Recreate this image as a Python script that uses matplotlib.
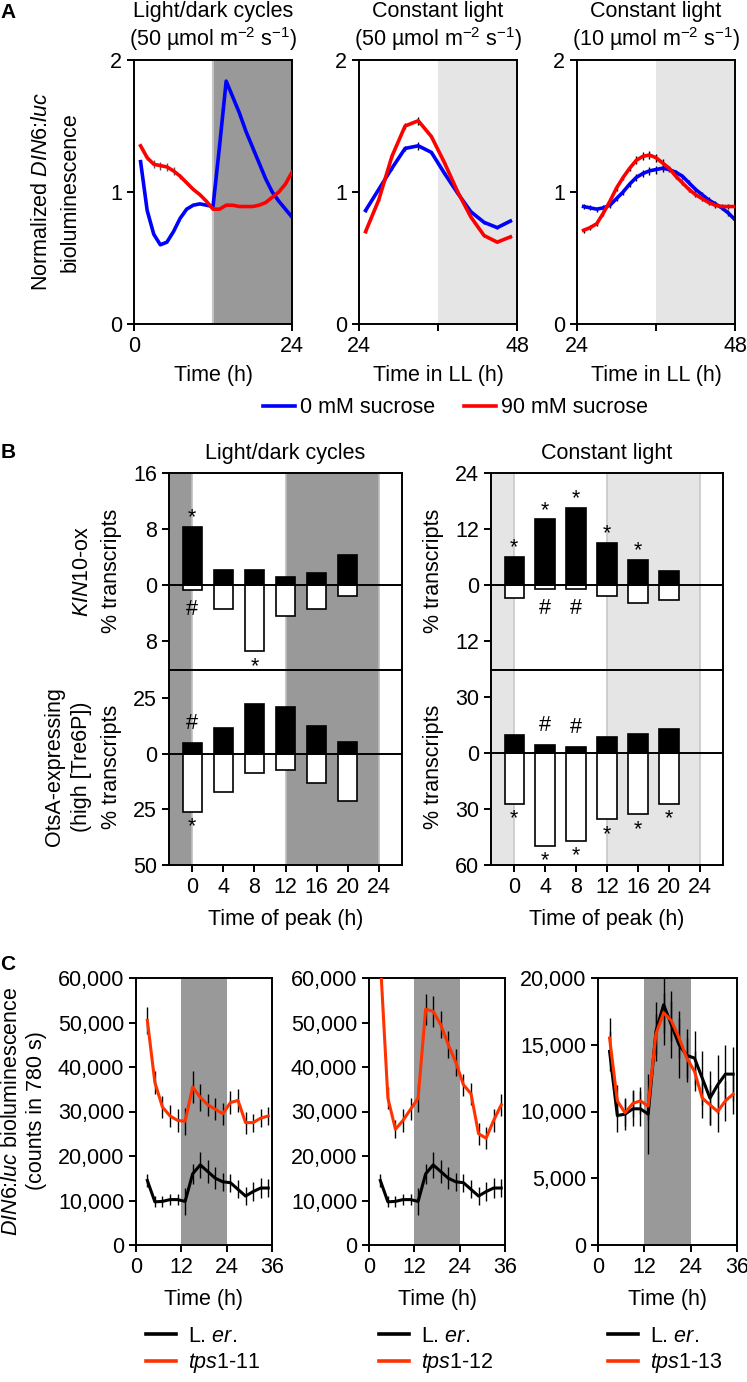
import matplotlib
matplotlib.use("Agg")
import matplotlib.pyplot as plt
from matplotlib.ticker import FuncFormatter
from matplotlib.lines import Line2D

plt.rcParams['font.family'] = ['Liberation Sans', 'DejaVu Sans']
plt.rcParams['mathtext.fontset'] = 'custom'
plt.rcParams['mathtext.rm'] = 'Liberation Sans'
plt.rcParams['mathtext.it'] = 'Liberation Sans:italic'
plt.rcParams['mathtext.bf'] = 'Liberation Sans:bold'
plt.rcParams['font.size'] = 15.5
plt.rcParams['axes.linewidth'] = 1.4
plt.rcParams['xtick.major.width'] = 1.4
plt.rcParams['ytick.major.width'] = 1.4
plt.rcParams['xtick.minor.width'] = 1.4
plt.rcParams['xtick.major.size'] = 5
plt.rcParams['ytick.major.size'] = 5
plt.rcParams['xtick.minor.size'] = 5

# --- A: normalized DIN6:luc bioluminescence ---
t_ld = [1, 2, 3, 4, 5, 6, 7, 8, 9, 10, 11, 12, 13, 14, 15, 16, 17, 18, 19, 20, 21, 22, 23, 24]
ld_0mM = [1.23, 0.86, 0.68, 0.60, 0.62, 0.70, 0.80, 0.87, 0.90, 0.91, 0.90, 0.89,
          1.35, 1.84, 1.72, 1.60, 1.46, 1.34, 1.22, 1.10, 1.00, 0.93, 0.87, 0.81]
ld_90mM = [1.35, 1.26, 1.21, 1.20, 1.19, 1.16, 1.12, 1.07, 1.02, 0.98, 0.93, 0.87,
           0.87, 0.90, 0.90, 0.89, 0.89, 0.89, 0.90, 0.92, 0.96, 1.00, 1.06, 1.15]
ld_90mM_err = [0.0, 0.02, 0.03, 0.03, 0.03, 0.03, 0.02, 0.0, 0.0, 0.0, 0.0, 0.0,
               0.0, 0.0, 0.0, 0.0, 0.0, 0.0, 0.0, 0.0, 0.0, 0.0, 0.0, 0.0]

t_ll50 = [25, 27, 29, 31, 33, 35, 37, 39, 41, 43, 45, 47]
ll50_0mM = [0.86, 1.02, 1.18, 1.33, 1.35, 1.30, 1.14, 0.99, 0.85, 0.77, 0.73, 0.78]
ll50_90mM = [0.70, 0.94, 1.27, 1.50, 1.54, 1.42, 1.22, 1.00, 0.81, 0.67, 0.62, 0.66]
ll50_err = [0.01, 0.01, 0.01, 0.02, 0.03, 0.01, 0.01, 0.01, 0.01, 0.01, 0.01, 0.01]

t_ll10 = [25, 26, 27, 28, 29, 30, 31, 32, 33, 34, 35, 36,
          37, 38, 39, 40, 41, 42, 43, 44, 45, 46, 47, 48]
ll10_0mM = [0.89, 0.88, 0.87, 0.88, 0.90, 0.95, 1.00, 1.06, 1.11, 1.14, 1.16, 1.17,
            1.18, 1.17, 1.15, 1.12, 1.07, 1.02, 0.98, 0.94, 0.91, 0.88, 0.84, 0.79]
ll10_90mM = [0.71, 0.73, 0.76, 0.84, 0.93, 1.03, 1.11, 1.18, 1.24, 1.27, 1.28, 1.26,
             1.22, 1.18, 1.12, 1.07, 1.02, 0.98, 0.95, 0.92, 0.90, 0.89, 0.89, 0.89]
ll10_err = [0.02, 0.02, 0.02, 0.02, 0.02, 0.02, 0.02, 0.02, 0.03, 0.03, 0.03, 0.03,
            0.03, 0.02, 0.02, 0.02, 0.02, 0.02, 0.02, 0.02, 0.02, 0.02, 0.02, 0.02]

# --- B: % transcripts by time of peak ---
peak_times = [0, 4, 8, 12, 16, 20]
ld_kin_up = [8.3, 2.2, 2.2, 1.2, 1.8, 4.3]
ld_kin_down = [0.7, 3.4, 9.4, 4.4, 3.4, 1.6]
ld_ots_up = [5.0, 11.8, 22.3, 21.0, 12.7, 5.5]
ld_ots_down = [26.0, 17.0, 8.5, 7.2, 13.3, 21.0]
ll_kin_up = [6.0, 14.1, 16.5, 9.0, 5.4, 3.0]
ll_kin_down = [2.8, 0.9, 0.8, 2.4, 3.9, 3.3]
ll_ots_up = [9.8, 4.4, 3.4, 8.7, 10.3, 13.1]
ll_ots_down = [27.0, 49.7, 47.0, 35.5, 32.8, 27.0]

ld_kin_up_sig = ['*', '', '', '', '', '']
ld_kin_down_sig = ['#', '', '*', '', '', '']
ld_ots_up_sig = ['#', '', '', '', '', '']
ld_ots_down_sig = ['*', '', '', '', '', '']
ll_kin_up_sig = ['*', '*', '*', '*', '*', '']
ll_kin_down_sig = ['', '#', '#', '', '', '']
ll_ots_up_sig = ['', '#', '#', '', '', '']
ll_ots_down_sig = ['*', '*', '*', '*', '*', '*']

# --- C: DIN6:luc counts in tps1 lines ---
t_c = [3, 5, 7, 9, 11, 13, 15, 17, 19, 21, 23, 25, 27, 29, 31, 33, 35]
ler = [14500, 9700, 9800, 10200, 10200, 9800, 16000, 18000, 16500, 15000, 14200,
       14000, 12500, 11000, 12000, 12800, 12800]
ler_err = [1500, 1200, 1200, 1300, 1300, 3000, 2200, 3000, 2500, 2500, 2000,
           2000, 2000, 2000, 2200, 2200, 2000]
tps11 = [50500, 36500, 31000, 29000, 28000, 27800, 35500, 33200, 31500, 30500, 29500,
         32000, 32500, 27500, 27500, 28500, 29000]
tps11_err = [3000, 2500, 2500, 2500, 2500, 3000, 3500, 3000, 2500, 2500, 2500,
             2500, 2500, 2500, 2000, 2000, 2000]
tps12 = [64000, 33000, 26000, 28000, 30500, 33000, 53000, 52500, 49500, 45000, 41000,
         36000, 34000, 25000, 24000, 28000, 31500]
tps12_err = [3000, 2500, 2000, 2500, 2500, 3000, 3500, 3500, 3000, 3000, 3000,
             2500, 2500, 2500, 2500, 2500, 2500]
tps13 = [15500, 10800, 9900, 10600, 10800, 10400, 15800, 17400, 16800, 15500, 14000,
         13000, 11000, 10500, 10000, 10800, 11300]
tps13_err = [1500, 1200, 1000, 1000, 1000, 1000, 1500, 1500, 1500, 1500, 1500,
             1500, 1500, 1500, 1500, 1500, 1500]

W, H = 747, 1382
fig = plt.figure(figsize=(W / 100, H / 100), dpi=100)

BLUE, RED, CRED = '#0000ff', '#ff0000', '#ff3300'
DARK, LIGHT = '#999999', '#e5e5e5'


def px_axes(l, t, r, b):
    return fig.add_axes([l / W, 1 - b / H, (r - l) / W, (b - t) / H])


def ftext(x, y, s, **kw):
    fig.text(x / W, 1 - y / H, s, ha=kw.pop('ha', 'center'), va=kw.pop('va', 'center'), **kw)


# ---------------- panel A ----------------
a_titles = [("Light/dark cycles", r"(50 µmol m$^{-2}$ s$^{-1}$)"),
            ("Constant light", r"(50 µmol m$^{-2}$ s$^{-1}$)"),
            ("Constant light", r"(10 µmol m$^{-2}$ s$^{-1}$)")]
a_lefts = [134, 359, 577]
a_axes = []
for i, l in enumerate(a_lefts):
    ax = px_axes(l, 60, l + 158, 324)
    a_axes.append(ax)
    ax.set_ylim(0, 2)
    ax.set_yticks([0, 1, 2])
    ftext(l + 79, 12, a_titles[i][0])
    ftext(l + 79, 39, a_titles[i][1])

ax = a_axes[0]
ax.axvspan(12, 24, color=DARK, lw=0, zorder=0)
ax.axvline(12, color='#c4c4c4', lw=1.5, zorder=0)
ax.errorbar(t_ld, ld_90mM, yerr=ld_90mM_err, fmt='none', ecolor='#555555', elinewidth=1, zorder=1)
ax.plot(t_ld, ld_0mM, color=BLUE, lw=2.6, zorder=2)
ax.plot(t_ld, ld_90mM, color=RED, lw=2.6, zorder=3)
ax.set_xlim(0, 24)
ax.set_xticks([0, 24])
ax.set_xlabel("Time (h)", labelpad=6)

for ax, t, b, r, e in [(a_axes[1], t_ll50, ll50_0mM, ll50_90mM, ll50_err),
                       (a_axes[2], t_ll10, ll10_0mM, ll10_90mM, ll10_err)]:
    ax.axvspan(36, 48, color=LIGHT, lw=0, zorder=0)
    ax.errorbar(t, b, yerr=e, fmt='none', ecolor='k', elinewidth=1, zorder=1)
    ax.errorbar(t, r, yerr=e, fmt='none', ecolor='k', elinewidth=1, zorder=1)
    ax.plot(t, b, color=BLUE, lw=2.6, zorder=2)
    ax.plot(t, r, color=RED, lw=2.6, zorder=3)
    ax.set_xlim(24, 48)
    ax.set_xticks([24, 48])
    ax.set_xticks([36], minor=True)
    ax.set_xlabel("Time in LL (h)", labelpad=6)

ftext(42, 192, r"Normalized $\it{DIN6}$:$\it{luc}$", rotation=90)
ftext(70, 192, "bioluminescence", rotation=90)

a_handles = [Line2D([], [], color=BLUE, lw=2.6), Line2D([], [], color=RED, lw=2.6)]
fig.legend(a_handles, ["0 mM sucrose", "90 mM sucrose"], loc='center left',
           bbox_to_anchor=(252 / W, 1 - 408 / H), ncol=2, frameon=False, borderpad=0,
           handlelength=1.5, handletextpad=0.25, columnspacing=1.3)

# ---------------- panel B ----------------
absfmt = FuncFormatter(lambda v, p: f"{abs(v):g}")


def b_axes(l, r, t, b, ylim, yticks, shade, edge):
    ax = px_axes(l, t, r, b)
    ax.set_xlim(-3, 27)
    ax.set_ylim(*ylim)
    ax.set_yticks(yticks)
    ax.yaxis.set_major_formatter(absfmt)
    for x0, x1 in [(-3, 0), (12, 24)]:
        ax.axvspan(x0, x1, color=shade, lw=0, zorder=0)
    for x in [0, 12, 24]:
        ax.axvline(x, color=edge, lw=1.2, zorder=0)
    ax.axhline(0, color='k', lw=1.4, zorder=4)
    return ax


def b_bars(ax, ups, downs, sig_up, sig_down):
    ax.bar(peak_times, ups, width=2.5, color='k', edgecolor='k', lw=1.2, zorder=3)
    ax.bar(peak_times, [-v for v in downs], width=2.5, color='white', edgecolor='k',
           lw=1.2, zorder=3)
    for x, v, s in zip(peak_times, ups, sig_up):
        if s:
            off = 6.5 if s == '*' else 14
            ax.annotate(s, (x, v), xytext=(0, off), textcoords='offset points',
                        ha='center', va='center')
    for x, v, s in zip(peak_times, downs, sig_down):
        if s:
            off = -11 if s == '*' else -14
            ax.annotate(s, (x, -v), xytext=(0, off), textcoords='offset points',
                        ha='center', va='center')


b1u = b_axes(169, 402, 473, 670, (-12.1, 16), [16, 8, 0, -8], DARK, '#bdbdbd')
b1l = b_axes(169, 402, 670, 865, (-50, 37.7), [25, 0, -25, -50], DARK, '#bdbdbd')
b2u = b_axes(491, 723, 473, 670, (-18.2, 24), [24, 12, 0, -12], LIGHT, '#c8c8c8')
b2l = b_axes(491, 723, 670, 865, (-60, 44.7), [30, 0, -30, -60], LIGHT, '#c8c8c8')

b_bars(b1u, ld_kin_up, ld_kin_down, ld_kin_up_sig, ld_kin_down_sig)
b_bars(b1l, ld_ots_up, ld_ots_down, ld_ots_up_sig, ld_ots_down_sig)
b_bars(b2u, ll_kin_up, ll_kin_down, ll_kin_up_sig, ll_kin_down_sig)
b_bars(b2l, ll_ots_up, ll_ots_down, ll_ots_up_sig, ll_ots_down_sig)

for ax in [b1u, b2u]:
    ax.tick_params(axis='x', bottom=False, labelbottom=False)
for ax in [b1l, b2l]:
    ax.set_xticks([0, 4, 8, 12, 16, 20, 24])
    ax.set_xlabel("Time of peak (h)", labelpad=8)

ftext(285, 453, "Light/dark cycles")
ftext(607, 453, "Constant light")
ftext(82, 571, r"$\it{KIN10}$-ox", rotation=90)
ftext(112, 571, "% transcripts", rotation=90)
ftext(55, 767, "OtsA-expressing", rotation=90)
ftext(81, 767, "(high [Tre6P])", rotation=90)
ftext(112, 767, "% transcripts", rotation=90)
ftext(433, 571, "% transcripts", rotation=90)
ftext(433, 767, "% transcripts", rotation=90)

# ---------------- panel C ----------------
commafmt = FuncFormatter(lambda v, p: f"{v:,.0f}")
c_specs = [(136, 272, tps11, tps11_err, "11", 60000, 10000),
           (369, 505, tps12, tps12_err, "12", 60000, 10000),
           (598, 737, tps13, tps13_err, "13", 20000, 5000)]
for l, r, vals, err, tag, ymax, step in c_specs:
    ax = px_axes(l, 978, r, 1245)
    ax.axvspan(12, 24, color=DARK, lw=0, zorder=0)
    ax.errorbar(t_c, ler, yerr=ler_err, fmt='none', ecolor='k', elinewidth=1, zorder=1)
    ax.errorbar(t_c, vals, yerr=err, fmt='none', ecolor='k', elinewidth=1, zorder=1)
    ax.plot(t_c, ler, color='k', lw=2.2, zorder=2)
    ax.plot(t_c, vals, color=CRED, lw=2.2, zorder=3)
    ax.set_xlim(0, 36)
    ax.set_xticks([0, 12, 24, 36])
    ax.set_ylim(0, ymax)
    ax.set_yticks(list(range(0, ymax + 1, step)))
    ax.yaxis.set_major_formatter(commafmt)
    ax.set_xlabel("Time (h)", labelpad=8)
    handles = [Line2D([], [], color='k', lw=2.6), Line2D([], [], color=CRED, lw=2.6)]
    ax.legend(handles, [r"L. $\it{er.}$", r"$\it{tps1}$-" + tag], loc='upper left',
              bbox_to_anchor=((l + 10) / W, 1 - 1326 / H), bbox_transform=fig.transFigure,
              frameon=False, borderpad=0, borderaxespad=0, handlelength=1.4,
              handletextpad=0.55, labelspacing=0.2)

ftext(12, 1111, r"$\it{DIN6}$:$\it{luc}$ bioluminescence", rotation=90)
ftext(37, 1111, "(counts in 780 s)", rotation=90)

# panel letters
ftext(8, 12, "A", fontweight='bold', fontsize=15)
ftext(8, 452, "B", fontweight='bold', fontsize=15)
ftext(8, 965, "C", fontweight='bold', fontsize=15)

fig.savefig("out.png", dpi=100)
